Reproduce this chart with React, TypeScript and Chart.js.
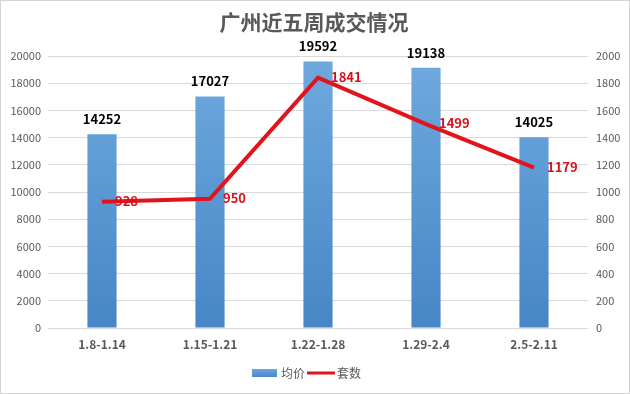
import React, { useEffect, useRef } from "react";
import { Chart, registerables } from "chart.js";

Chart.register(...registerables);

const categories = ["1.8-1.14", "1.15-1.21", "1.22-1.28", "1.29-2.4", "2.5-2.11"];
const avgPrice = [14252, 17027, 19592, 19138, 14025];
const units = [928, 950, 1841, 1499, 1179];
const leftTicks = [0, 2000, 4000, 6000, 8000, 10000, 12000, 14000, 16000, 18000, 20000];
const rightTicks = [0, 200, 400, 600, 800, 1000, 1200, 1400, 1600, 1800, 2000];
const titleText = "广州近五周成交情况";
const seriesNames = ["均价", "套数"];

const FONT = "'Noto Sans CJK SC', 'Noto Sans', sans-serif";
const LINE_COLOR = "#e1141c";
const LABEL_RED = "#d4121b";
const TEXT_GRAY = "#595959";

const overlayPlugin = {
  id: "overlay",
  afterDatasetsDraw(chart: any) {
    const ctx = chart.ctx;
    ctx.save();
    const barMeta = chart.getDatasetMeta(0);
    ctx.font = `bold 13px ${FONT}`;
    ctx.fillStyle = "#000";
    ctx.textAlign = "center";
    ctx.textBaseline = "middle";
    barMeta.data.forEach((el: any, i: number) => {
      ctx.fillText(String(avgPrice[i]), el.x, el.y - 15);
    });
    const lineMeta = chart.getDatasetMeta(1);
    ctx.fillStyle = LABEL_RED;
    ctx.textAlign = "left";
    lineMeta.data.forEach((el: any, i: number) => {
      ctx.fillText(String(units[i]), el.x + 13, el.y - 1);
    });
    ctx.restore();
  },
  afterDraw(chart: any) {
    const ctx = chart.ctx;
    ctx.save();
    ctx.font = `bold 21px ${FONT}`;
    ctx.fillStyle = TEXT_GRAY;
    ctx.textAlign = "center";
    ctx.textBaseline = "middle";
    ctx.fillText(titleText, 313, 21);
    const ly = 372;
    const g = ctx.createLinearGradient(0, ly - 4, 0, ly + 4);
    g.addColorStop(0, "#6aa6dc");
    g.addColorStop(1, "#4a88c7");
    ctx.fillStyle = g;
    ctx.fillRect(251, ly - 4, 25, 8);
    ctx.font = `12px ${FONT}`;
    ctx.fillStyle = TEXT_GRAY;
    ctx.textAlign = "left";
    ctx.fillText(seriesNames[0], 280, ly);
    ctx.strokeStyle = LINE_COLOR;
    ctx.lineWidth = 3;
    ctx.beginPath();
    ctx.moveTo(306, ly);
    ctx.lineTo(334, ly);
    ctx.stroke();
    ctx.fillText(seriesNames[1], 336, ly);
    ctx.restore();
  },
};

export default function App() {
  const ref = useRef<HTMLCanvasElement>(null);
  useEffect(() => {
    document.body.style.margin = "0";
    const canvas = ref.current!;
    const chart = new Chart(canvas, {
      type: "bar",
      data: {
        labels: categories,
        datasets: [
          {
            type: "bar",
            label: seriesNames[0],
            data: avgPrice,
            yAxisID: "y",
            backgroundColor: (c: any) => {
              const area = c.chart.chartArea;
              if (!area) return "#5b9bd5";
              const g = c.chart.ctx.createLinearGradient(0, area.top, 0, area.bottom);
              g.addColorStop(0, "#6fa9de");
              g.addColorStop(1, "#4786c6");
              return g;
            },
            barPercentage: 0.27,
            categoryPercentage: 1,
            order: 2,
          },
          {
            type: "line",
            label: seriesNames[1],
            data: units,
            yAxisID: "y1",
            borderColor: LINE_COLOR,
            borderWidth: 4,
            pointRadius: 0,
            tension: 0,
            order: 1,
          },
        ],
      },
      options: {
        responsive: false,
        animation: false,
        layout: { padding: { top: 55, left: 0, right: 0, bottom: 0 } },
        plugins: {
          legend: { display: false },
          title: { display: false },
          tooltip: { enabled: false },
        },
        scales: {
          x: {
            grid: { display: false, drawTicks: false },
            border: { display: false },
            ticks: {
              font: { family: FONT, size: 12, weight: "bold" },
              color: TEXT_GRAY,
              padding: 9,
            },
            afterFit: (s: any) => {
              s.height = 65;
            },
          },
          y: {
            position: "left",
            min: 0,
            max: 20000,
            afterBuildTicks: (s: any) => {
              s.ticks = leftTicks.map((v) => ({ value: v }));
            },
            grid: { color: "#d9d9d9", drawTicks: false, lineWidth: 1 },
            border: { display: false },
            ticks: {
              font: { family: FONT, size: 11 },
              color: TEXT_GRAY,
              padding: 7,
              callback: (v: any) => String(v),
            },
            afterFit: (s: any) => {
              s.width = 47;
            },
          },
          y1: {
            position: "right",
            min: 0,
            max: 2000,
            afterBuildTicks: (s: any) => {
              s.ticks = rightTicks.map((v) => ({ value: v }));
            },
            grid: { display: false, drawTicks: false },
            border: { display: false },
            ticks: {
              font: { family: FONT, size: 11 },
              color: TEXT_GRAY,
              padding: 8,
              callback: (v: any) => String(v),
            },
            afterFit: (s: any) => {
              s.width = 41;
            },
          },
        },
      } as any,
      plugins: [overlayPlugin],
    });
    return () => chart.destroy();
  }, []);
  return (
    <div
      style={{
        width: 630,
        height: 394,
        background: "#fff",
        border: "1px solid #d4d4d4",
        boxSizing: "border-box",
        position: "relative",
        overflow: "hidden",
      }}
    >
      <canvas ref={ref} width={628} height={392} style={{ display: "block" }} />
    </div>
  );
}
